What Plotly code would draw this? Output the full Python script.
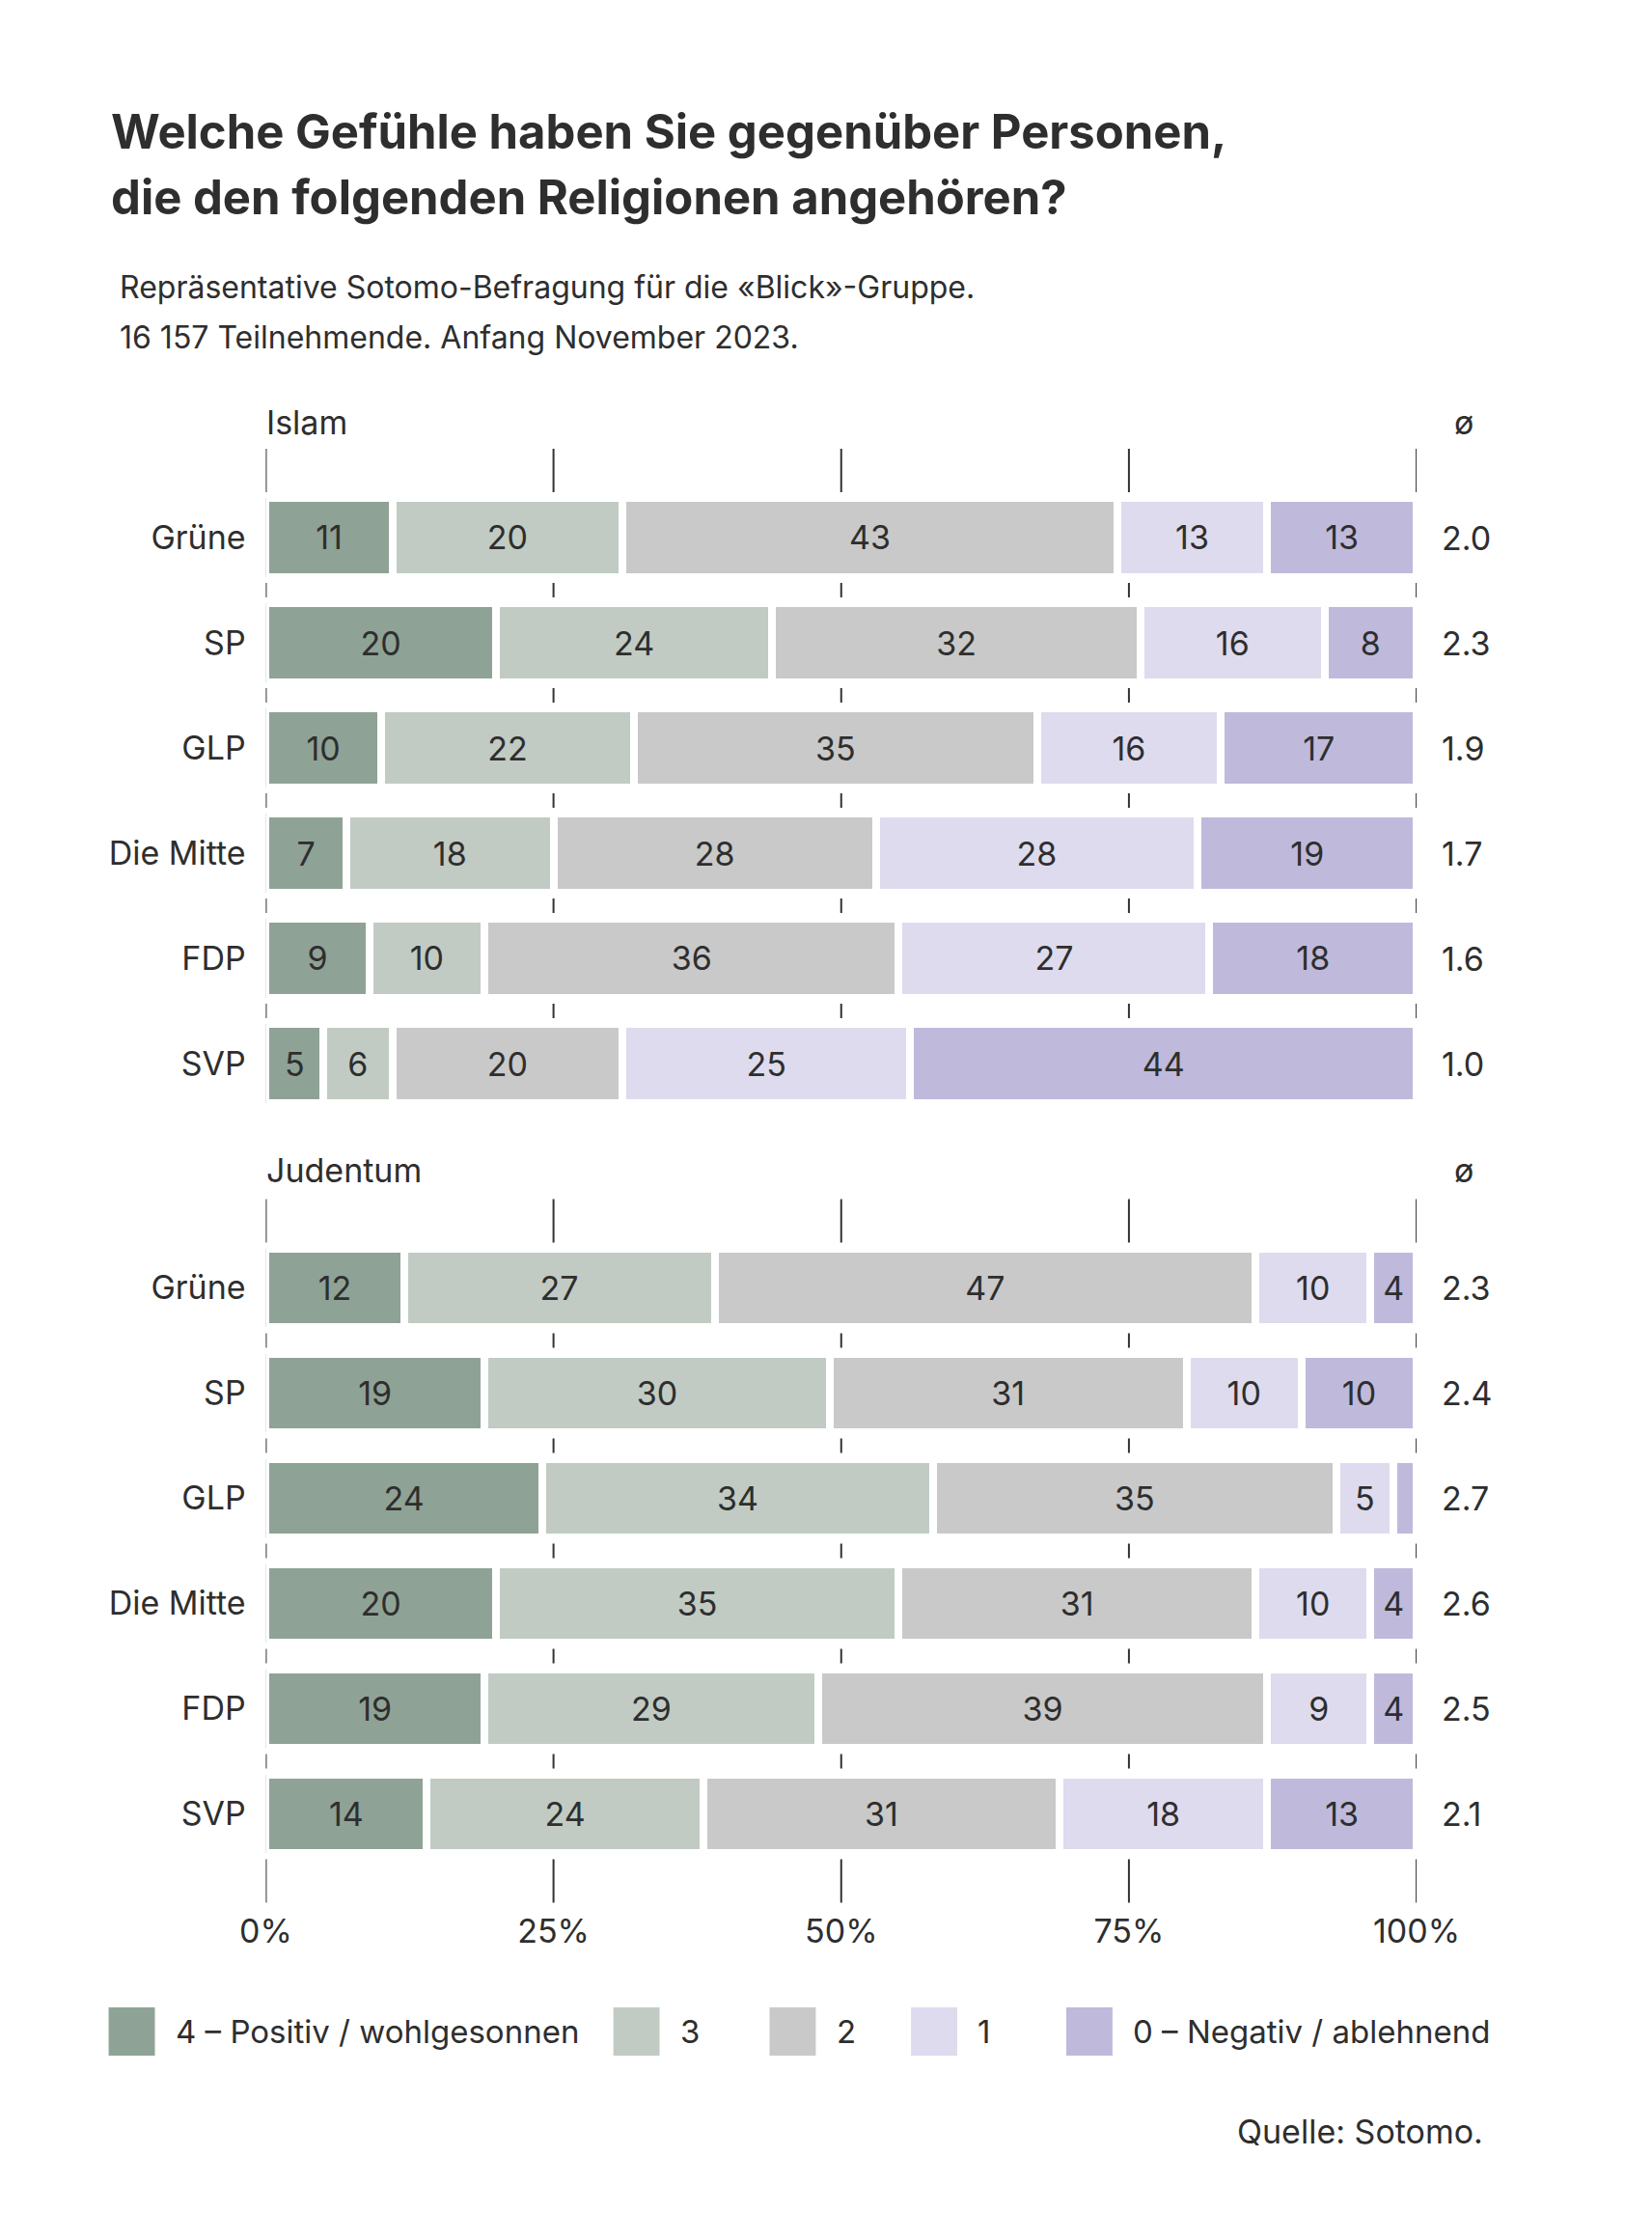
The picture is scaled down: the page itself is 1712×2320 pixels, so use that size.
import plotly.graph_objects as go

# canvas
W, H = 1712, 2320

parties = ["Grüne", "SP", "GLP", "Die Mitte", "FDP", "SVP"]
levels = ["4 – Positiv / wohlgesonnen", "3", "2", "1", "0 – Negativ / ablehnend"]
colors = ["#8fa296", "#c1cbc3", "#c9c9c9", "#dedbee", "#bfbadb"]

# share per party, order: 4, 3, 2, 1, 0
islam_4 = [11, 20, 10, 7, 9, 5]
islam_3 = [20, 24, 22, 18, 10, 6]
islam_2 = [43, 32, 35, 28, 36, 20]
islam_1 = [13, 16, 16, 28, 27, 25]
islam_0 = [13, 8, 17, 19, 18, 44]
islam_avg = ["2.0", "2.3", "1.9", "1.7", "1.6", "1.0"]

juden_4 = [12, 19, 24, 20, 19, 14]
juden_3 = [27, 30, 34, 35, 29, 24]
juden_2 = [47, 31, 35, 31, 39, 31]
juden_1 = [10, 10, 5, 10, 9, 18]
juden_0 = [4, 10, 2, 4, 4, 13]
juden_avg = ["2.3", "2.4", "2.7", "2.6", "2.5", "2.1"]

axis_ticks = [0, 25, 50, 75, 100]
axis_labels = ["0%", "25%", "50%", "75%", "100%"]

FONT = "Inter"
TXT = "#2e2e2e"


def px_x(x):
    return x / W


def px_y(y):
    return 1 - y / H


fig = go.Figure()

sections = [
    ("Islam", [islam_4, islam_3, islam_2, islam_1, islam_0], islam_avg, "x", "y"),
    ("Judentum", [juden_4, juden_3, juden_2, juden_1, juden_0], juden_avg, "x2", "y2"),
]

for name, series, avg, xa, ya in sections:
    for lvl, vals, col in zip(levels, series, colors):
        fig.add_trace(go.Bar(
            y=parties, x=vals, orientation="h",
            name=lvl, marker=dict(color=col, line=dict(color="white", width=8)),
            text=[str(v) if v >= 3 else "" for v in vals],
            textposition="inside", insidetextanchor="middle", textangle=0,
            constraintext="none",
            textfont=dict(family=FONT, size=34, color=TXT),
            xaxis=xa, yaxis=ya, showlegend=False, hoverinfo="skip",
        ))

xdom = [px_x(251), px_x(1496)]
common_y = dict(type="category", categoryorder="array", categoryarray=parties,
                showgrid=False, zeroline=False, showline=False,
                ticks="outside", ticklen=13, tickcolor="rgba(0,0,0,0)",
                tickfont=dict(family=FONT, size=34, color=TXT))

fig.update_layout(
    width=W, height=H, autosize=False,
    margin=dict(l=0, r=0, t=0, b=0),
    paper_bgcolor="white", plot_bgcolor="white",
    barmode="stack", bargap=0.248,
    uniformtext=dict(minsize=34, mode="show"),
    xaxis=dict(domain=xdom, anchor="y", range=[0, 100], showgrid=False, zeroline=False,
               showticklabels=False, fixedrange=True),
    xaxis2=dict(domain=xdom, anchor="y2", range=[0, 100], showgrid=False, zeroline=False,
                tickvals=axis_ticks, ticktext=axis_labels, ticks="",
                tickfont=dict(family=FONT, size=34, color=TXT), fixedrange=True),
    yaxis=dict(domain=[px_y(1148.5), px_y(450.9)], anchor="x", range=[5.5, -0.9], **common_y),
    yaxis2=dict(domain=[px_y(1969.6), px_y(1228.4)], anchor="x2", range=[5.9, -0.9], **common_y),
    showlegend=False,
)

# short tick segments in the gaps between the bars
pad = 0.431
shapes = []
for si, (name, series, avg, xa, ya) in enumerate(sections):
    spans = [(-0.845, -pad)] + [(i + pad, i + 1 - pad) for i in range(len(parties) - 1)]
    if si == 1:
        spans.append((len(parties) - 1 + pad, len(parties) - 1 + 0.845))
    for t in axis_ticks:
        for y0, y1 in spans:
            shapes.append(dict(type="line", xref=xa, yref=ya, x0=t, x1=t, y0=y0, y1=y1,
                               line=dict(color="#333333", width=2), layer="below"))

# legend swatches
leg_x = [81, 627, 796, 949, 1117]
for lx, lvl, col in zip(leg_x, levels, colors):
    shapes.append(dict(type="rect", xref="paper", yref="paper",
                       x0=px_x(lx), x1=px_x(lx + 50), y0=px_y(2122), y1=px_y(2072),
                       fillcolor=col, line=dict(width=0)))
fig.update_layout(shapes=shapes)

ann = []
ann.append(dict(text="<b>Welche Gefühle haben Sie gegenüber Personen,</b>", x=px_x(81), y=px_y(128),
                font=dict(size=49, color=TXT, family=FONT)))
ann.append(dict(text="<b>die den folgenden Religionen angehören?</b>", x=px_x(81), y=px_y(197),
                font=dict(size=49, color=TXT, family=FONT)))
ann.append(dict(text="Repräsentative Sotomo-Befragung für die «Blick»-Gruppe.", x=px_x(91), y=px_y(289),
                font=dict(size=32, color=TXT, family=FONT)))
ann.append(dict(text="16 157 Teilnehmende. Anfang November 2023.", x=px_x(91), y=px_y(341),
                font=dict(size=32, color=TXT, family=FONT)))

for (name, series, avg, xa, ya), ly in zip(sections, [430, 1204]):
    ann.append(dict(text=name, x=px_x(249), y=px_y(ly), font=dict(size=34, color=TXT, family=FONT)))
    ann.append(dict(text="ø", x=px_x(1547), y=px_y(ly), xanchor="center",
                    font=dict(size=34, color=TXT, family=FONT)))
    for p, a in zip(parties, avg):
        ann.append(dict(text=a, x=px_x(1521), xref="paper", y=p, yref=ya,
                        font=dict(size=34, color=TXT, family=FONT)))

for lx, lvl in zip(leg_x, levels):
    ann.append(dict(text=lvl, x=px_x(lx + 70), y=px_y(2097), font=dict(size=33, color=TXT, family=FONT)))

ann.append(dict(text="Quelle: Sotomo.", x=px_x(1570), y=px_y(2200), xanchor="right",
                font=dict(size=34, color=TXT, family=FONT)))

for a in ann:
    a.setdefault("xref", "paper")
    a.setdefault("yref", "paper")
    a.setdefault("xanchor", "left")
    a.setdefault("yanchor", "middle")
    a["showarrow"] = False
fig.update_layout(annotations=ann)

fig.write_html("out.html", config={"responsive": False})
